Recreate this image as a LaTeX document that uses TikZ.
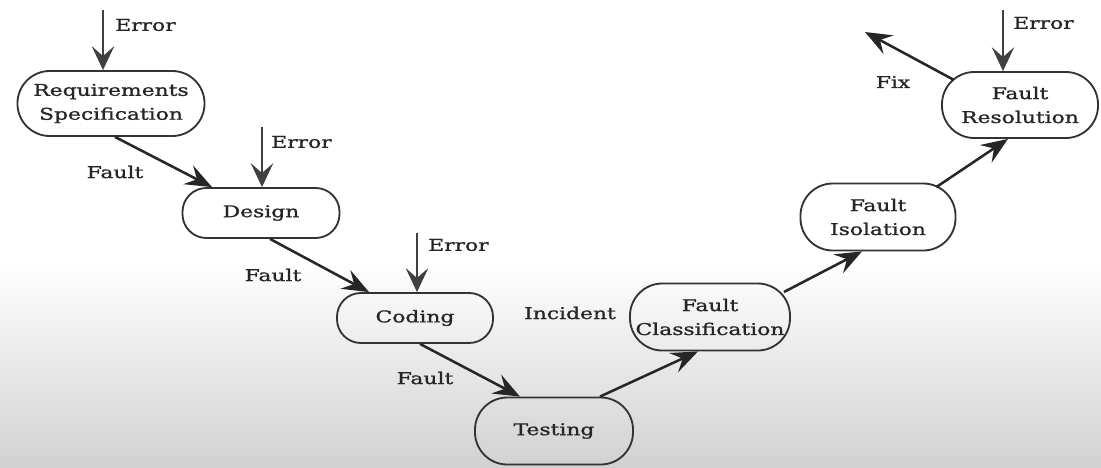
\documentclass[tikz,border=0pt]{standalone}
\usepackage{fontspec}
\setmainfont{DejaVu Serif}[FakeStretch=1.35,FakeBold=1.2]
\usetikzlibrary{arrows.meta,calc}
\tikzset{
  stage/.style={draw=black!80, line width=1.3pt, rounded corners=17pt, align=center,
    inner sep=0pt, font=\fontsize{11.5}{17}\selectfont, text=black!85},
  tall/.style={rounded corners=23pt},
  lbl/.style={font=\fontsize{11.5}{14}\selectfont, text=black!85, inner sep=0pt},
  flow/.style={draw=black!85, line width=1.8pt, -{Stealth[length=19pt,width=15pt,inset=7pt]}},
  err/.style={draw=black!75, line width=1pt, -{Stealth[length=17pt,width=16pt,inset=7pt]}},
}
\begin{document}
\begin{tikzpicture}[x=0.025cm,y=-0.025cm]
    \useasboundingbox (0,0) rectangle (1101,468);
    \fill[white] (0,0) rectangle (1101,468);
    \shade[top color=white,bottom color=black!18] (0,260) rectangle (1101,468);
    % stages of the V
    \node[stage,tall,minimum width=4.675cm,minimum height=1.625cm] (req) at (111,103.5) {Requirements\\Specification};
    \node[stage,minimum width=3.925cm,minimum height=1.25cm] (design) at (261,213) {Design};
    \node[stage,minimum width=3.9cm,minimum height=1.25cm] (coding) at (415,318) {Coding};
    \node[stage,tall,minimum width=3.95cm,minimum height=1.675cm] (testing) at (554,431) {Testing};
    \node[stage,tall,minimum width=4cm,minimum height=1.675cm] (classif) at (710,317) {Fault\\Classification};
    \node[stage,tall,minimum width=3.875cm,minimum height=1.675cm] (isol) at (878,217) {Fault\\Isolation};
    \node[stage,tall,minimum width=3.9cm,minimum height=1.65cm] (resol) at (1020,105) {Fault\\Resolution};
    \coordinate (fix) at (865,32);
    % flow between stages
    \draw[flow] ($(req.south)+(4,0)$) -- ($(design.north)+(-49,0)$);
    \draw[flow] ($(design.south)+(9,0)$) -- ($(coding.north)+(-46,0)$);
    \draw[flow] ($(coding.south)+(5,0)$) -- ($(testing.north)+(-34,0)$);
    \draw[flow] ($(testing.north)+(46,0)$) -- ($(classif.south)+(-12,0)$);
    \draw[flow] ($(classif.east)+(-7,-25)$) -- ($(isol.south)+(-16,0)$);
    \draw[flow] ($(isol.east)+(-20,-30)$) -- ($(resol.south)+(-12,0)$);
    \draw[flow] ($(resol.west)+(13,-25)$) -- (fix);
    % incoming errors
    \foreach \s/\x/\y/\lx/\ly in {req/103/10/115/25, design/262/127/271/142,
        coding/417/233/428/245, resol/1003/10/1013/23}{
        \coordinate (e\s) at (\x,\y);
        \draw[err] (e\s) -- (e\s |- \s.north);
        \node[lbl,anchor=west] (el\s) at (\lx,\ly) {Error};
    }
    \node[lbl] (f1) at (115,172) {Fault};
    \node[lbl] (f2) at (273,275) {Fault};
    \node[lbl] (f3) at (425,378) {Fault};
    \node[lbl] (inc) at (570,313) {Incident};
    \node[lbl] (fixl) at (893,82) {Fix};
\end{tikzpicture}
\end{document}
